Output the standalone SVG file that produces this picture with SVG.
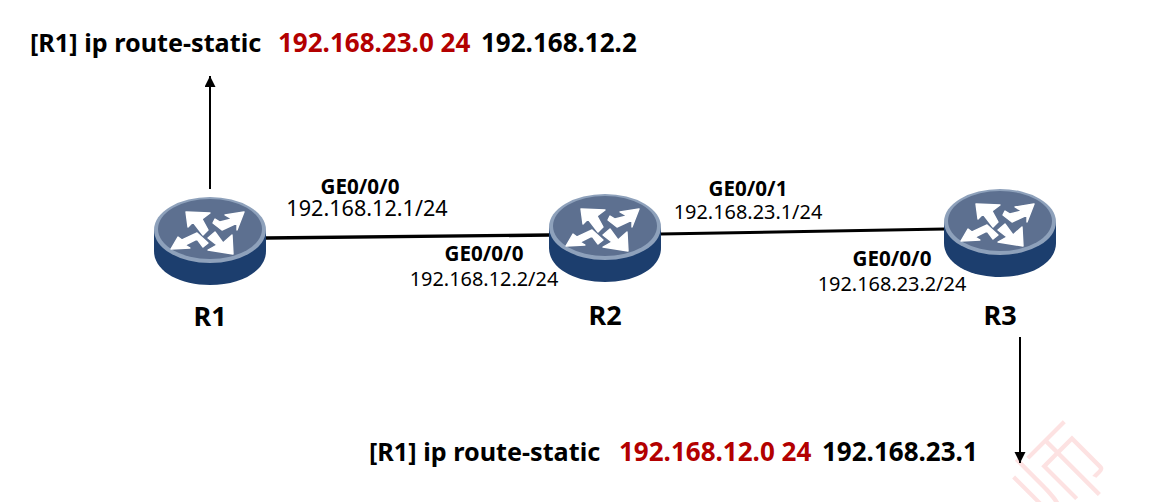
<svg xmlns="http://www.w3.org/2000/svg" width="1159" height="502" viewBox="0 0 1159 502">
<style>
text{font-family:"Noto Sans","Noto Sans CJK SC",sans-serif;fill:#000}
.cmd{font-size:25.2px;font-weight:700}
.num{font-size:26px;font-weight:700}
.red{fill:#b30000}
.port{font-size:20.6px;font-weight:700;text-anchor:middle}
.ip{font-size:19.9px;text-anchor:middle}
.ip1{font-size:21.6px}
.name{font-size:27px;font-weight:700;text-anchor:middle}
.link{stroke:#000;fill:none}
.arr{stroke:#000;stroke-width:2;fill:none;marker-end:url(#head)}
.wm{font-family:"Noto Sans CJK SC",sans-serif;font-size:92px;font-weight:300;fill:#fde2e2}
</style>
<defs>
<marker id="head" markerUnits="userSpaceOnUse" markerWidth="12" markerHeight="12" refX="11" refY="5.5" orient="auto"><path d="M0 0L11 5.5L0 11Z" fill="#000"/></marker>
<g id="router">
<path d="M-56 0V21C-56 41-31 55 0 55S56 41 56 21V0Z" fill="#1c3e6e"/>
<ellipse rx="56" ry="33" fill="#8ea1bb"/>
<ellipse rx="52" ry="30" cy="-1" fill="#5d7090"/>
<g fill="#fff" stroke="#fff" stroke-width="1.4" stroke-linejoin="round">
<path d="M-24 -18L0 -17L-8 -11L-2 0L-7 5L-17 -8L-22 -3Z"/>
<path d="M34 -18L15 -15L22 -11L10 -8L5 -11L3 -7L12 0L27 -7L27 0Z"/>
<path d="M-39 19L-32 7L-28 10L-13 3L-2 13L-7 17L-13 9L-25 15L-20 18Z"/>
<path d="M23 24L-2 20L7 15L-2 8L5 2L13 13L22 5Z"/>
</g>
</g>
</defs>
<text class="wm" x="1062" y="509" text-anchor="middle" transform="rotate(-45 1062 477)">师</text>
<g id="connectors">
<path class="link" stroke-width="3.4" d="M266 238L550 235"/>
<path class="link" stroke-width="3" d="M660 234L945 229"/>
<path class="arr" d="M210 189V76"/>
<path class="arr" d="M1020 337V463"/>
</g>
<g id="r1"><use href="#router" x="210" y="230"/><text class="name" x="210" y="326">R1</text></g>
<g id="r2"><use href="#router" x="605" y="227"/><text class="name" x="605" y="325">R2</text></g>
<g id="r3"><use href="#router" x="1000" y="222"/><text class="name" x="1000" y="325">R3</text></g>
<g id="labels">
<text class="port" x="360" y="194">GE0/0/0</text><text class="ip ip1" x="367" y="216">192.168.12.1/24</text>
<text class="port" x="484" y="261">GE0/0/0</text><text class="ip" x="484" y="286">192.168.12.2/24</text>
<text class="port" x="748" y="196">GE0/0/1</text><text class="ip" x="748" y="219">192.168.23.1/24</text>
<text class="port" x="892" y="266">GE0/0/0</text><text class="ip" x="892" y="291">192.168.23.2/24</text>
<text class="cmd" x="30" y="52">[R1] ip route-static</text><text class="num red" x="278" y="52">192.168.23.0 24</text><text class="num" x="481" y="52">192.168.12.2</text>
<text class="cmd" x="369" y="461">[R1] ip route-static</text><text class="num red" x="619" y="461">192.168.12.0 24</text><text class="num" x="822" y="461">192.168.23.1</text>
</g>
</svg>
